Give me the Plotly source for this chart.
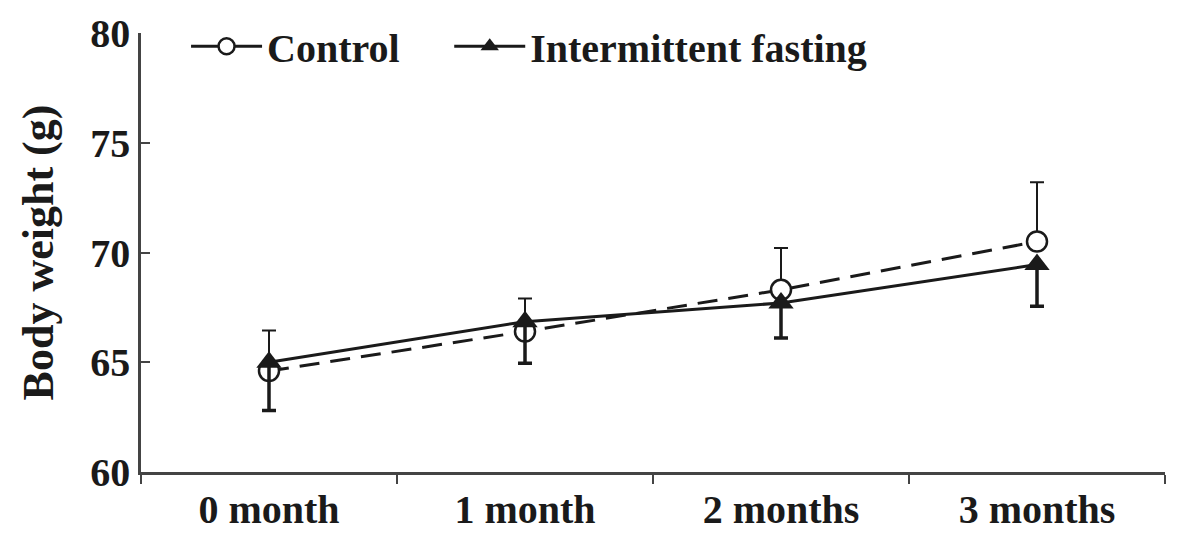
import plotly.graph_objects as go

categories = ["0 month", "1 month", "2 months", "3 months"]
control = [64.6, 66.4, 68.3, 70.5]
control_err_up = [1.85, 1.5, 1.9, 2.7]
fasting = [65.0, 66.85, 67.7, 69.45]
fasting_err_down = [2.2, 1.9, 1.6, 1.9]
y_ticks = [60, 65, 70, 75, 80]

FONT = "Liberation Serif"
INK = "#1a1a1a"

fig = go.Figure()
fig.add_trace(go.Scatter(
    x=categories, y=control, name="Control", mode="lines+markers", showlegend=False,
    line=dict(color=INK, width=3, dash="20px,11px"),
    marker=dict(symbol="circle", size=20, color="white", line=dict(color=INK, width=2.5)),
    error_y=dict(type="data", symmetric=False, array=control_err_up,
                 arrayminus=[0] * len(control), color=INK, thickness=2, width=7),
))
fig.add_trace(go.Scatter(
    x=categories, y=fasting, name="Intermittent fasting", mode="lines+markers", showlegend=False,
    line=dict(color=INK, width=3),
    marker=dict(symbol="triangle-up", size=22, color=INK),
    error_y=dict(type="data", symmetric=False, array=[0] * len(fasting),
                 arrayminus=fasting_err_down, color=INK, thickness=3.5, width=7),
))
# legend proxies (solid line segments like the reference legend)
fig.add_trace(go.Scatter(
    x=[None], y=[None], name="Control", mode="lines+markers", legend="legend",
    line=dict(color=INK, width=3),
    marker=dict(symbol="circle", size=18, color="white", line=dict(color=INK, width=2.5)),
))
fig.add_trace(go.Scatter(
    x=[None], y=[None], name="Intermittent fasting", mode="lines+markers", legend="legend2",
    line=dict(color=INK, width=3),
    marker=dict(symbol="triangle-up", size=22, color=INK),
))

legend_common = dict(orientation="h", y=0.97, xanchor="left", yanchor="middle",
                     font=dict(family=FONT, size=40, color=INK, weight="bold"),
                     bgcolor="rgba(0,0,0,0)", itemwidth=71)

fig.update_layout(
    width=1181, height=538,
    margin=dict(l=133, r=24, t=25, b=74, autoexpand=False),
    plot_bgcolor="white", paper_bgcolor="white",
    font=dict(family=FONT, size=40, color=INK),
    showlegend=True,
    legend=dict(x=0.044, **legend_common),
    legend2=dict(x=0.301, **legend_common),
)
fig.update_xaxes(
    type="category", range=[-0.5, 3.5], tickson="boundaries", automargin=False,
    showline=True, linecolor="#444", linewidth=2.5,
    ticks="outside", ticklen=9, tickcolor="#444", tickwidth=2,
    showgrid=False, zeroline=False, ticklabeloverflow="allow",
    tickfont=dict(family=FONT, size=40, weight="bold", color=INK),
)
fig.update_yaxes(
    range=[60, 80.001], tickvals=y_ticks, automargin=False,
    showline=True, linecolor="#444", linewidth=2.5,
    ticks="inside", ticklen=9, tickcolor="#444", tickwidth=2,
    showgrid=False, zeroline=False, ticklabeloverflow="allow",
    tickfont=dict(family=FONT, size=40, weight="bold", color=INK),
    title=dict(text="Body weight (g)", font=dict(family=FONT, size=44, weight="bold", color=INK), standoff=23),
)

fig.write_html("out.html")
